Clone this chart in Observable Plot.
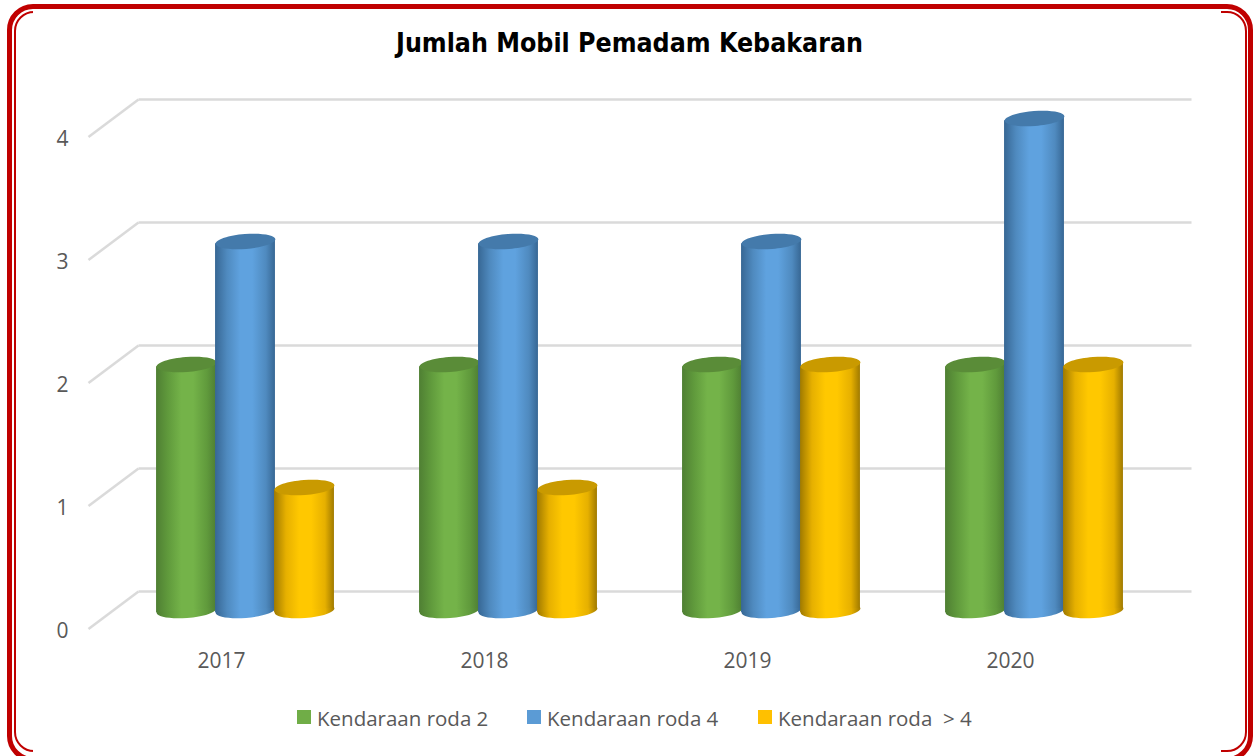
<!DOCTYPE html>
<html>
<head>
<meta charset="utf-8">
<script src="https://cdn.jsdelivr.net/npm/d3@7"></script>
<script src="https://cdn.jsdelivr.net/npm/@observablehq/plot@0.6"></script>
<style>
  html, body { margin: 0; padding: 0; background: #fff; overflow: hidden; }
  #page { position: relative; width: 1253px; height: 756px; overflow: hidden; background: #fff; }
  #title { height: 80px; box-sizing: border-box; padding-top: 24px; padding-left: 6px; text-align: center; font: bold 26.5px/38px "DejaVu Sans Condensed", "DejaVu Sans", sans-serif; color: #000; }
  #chart { height: 620px; }
  #chart svg { display: block; }
  #legend { position: absolute; top: 699px; left: 297px; height: 38px; white-space: nowrap; font: 20.5px/38px "Open Sans", sans-serif; color: #595959; }
  .item { position: absolute; top: 0; display: block; }
  .swatch { position: absolute; left: 0; top: 11px; width: 14px; height: 14px; }
  .label { position: absolute; left: 20px; top: 0; white-space: pre; }
  .outer { position: absolute; left: 6.5px; right: 0; top: 3.5px; bottom: -6px; border: 5.7px solid #c00000; border-radius: 26px; pointer-events: none; }
  .inner { position: absolute; left: 13.5px; right: 6px; top: 11px; bottom: 4px; border: 2px solid #c00000; border-radius: 20px; pointer-events: none; }
  .mask { position: absolute; left: 33px; right: 32px; height: 5px; background: #fff; }
</style>
</head>
<body>
<div id="page">
  <div id="title">Jumlah Mobil Pemadam Kebakaran</div>
  <div id="chart"></div>
  <div id="legend"></div>
  <div class="inner"></div>
  <div class="mask" style="top:10px"></div>
  <div class="mask" style="bottom:3px"></div>
  <div class="outer"></div>
</div>
<script>
const years = [2017, 2018, 2019, 2020];
const roda2 = [2, 2, 2, 2];
const roda4 = [3, 3, 3, 4];
const rodaLebih4 = [1, 1, 2, 2];
const yTicks = [0, 1, 2, 3, 4];
const seriesNames = ["Kendaraan roda 2", "Kendaraan roda 4", "Kendaraan roda  > 4"];

// Styling of each series: legend colour, lit colour, cap colour and shaded edge colours
const seriesStyle = [
  {id: "green", main: "#70ad47", lit: "#74b349", cap: "#5a8c38", mid: "#609a3c", edge: "#4f7f33"},
  {id: "blue", main: "#5b9bd5", lit: "#5fa2df", cap: "#447aab", mid: "#4f8abf", edge: "#376794"},
  {id: "gold", main: "#ffc000", lit: "#ffc800", cap: "#c99a00", mid: "#e6b000", edge: "#a07a00"}
];
const seriesValues = [roda2, roda4, rodaLebih4];

// Scale layout: one year is 263px wide, 2017 sits at 245px; one unit of value is 123px
const step = 263, origin = 245, unit = 123;
const xPx = (px) => years[0] + (px - origin) / step;
const barPitch = 59 / step;
const barHalf = 29.95 / step;
const tilt = 2.2 / unit;
const depthBack = 19 / unit, depthFront = 18.5 / unit;
const xBack0 = xPx(138), xBack1 = xPx(1191), xFront = xPx(88);

const table = seriesValues.map((vals, s) =>
  vals.map((v, i) => ({
    series: seriesNames[s],
    year: years[i],
    value: v,
    center: years[i] + (s - 1) * barPitch
  }))
);

// Tilted ellipse cap for the cylinder ends
const capSymbol = {
  draw(ctx) {
    const rx = 30, ry = 7.5, a = -4.5 * Math.PI / 180, k = 0.5523;
    const c = Math.cos(a), s = Math.sin(a);
    const P = (x, y) => [x * c - y * s, x * s + y * c];
    const seg = (a1, a2, a3) => ctx.bezierCurveTo(...P(...a1), ...P(...a2), ...P(...a3));
    ctx.moveTo(...P(rx, 0));
    seg([rx, k * ry], [k * rx, ry], [0, ry]);
    seg([-k * rx, ry], [-rx, k * ry], [-rx, 0]);
    seg([-rx, -k * ry], [-k * rx, -ry], [0, -ry]);
    seg([k * rx, -ry], [rx, -k * ry], [rx, 0]);
    ctx.closePath();
  }
};

const defs = () => {
  const d = d3.create("svg:defs");
  for (const st of seriesStyle) {
    const g = d.append("linearGradient").attr("id", "grad-" + st.id).attr("x1", 0).attr("x2", 1).attr("y1", 0).attr("y2", 0);
    const stops = [[0, st.edge], [0.2, st.mid], [0.42, st.lit], [0.62, st.lit], [0.85, st.mid], [1, st.edge]];
    for (const [o, col] of stops) g.append("stop").attr("offset", o).attr("stop-color", col);
  }
  return d.node();
};

const grid = "#dadada";
const marks = [
  defs,
  Plot.link(yTicks, {x1: xBack0, x2: xBack1, y1: (d) => d + depthBack, y2: (d) => d + depthBack, stroke: grid, strokeWidth: 2.5}),
  Plot.link(yTicks, {x1: xFront, x2: xBack0, y1: (d) => d - depthFront, y2: (d) => d + depthBack, stroke: grid, strokeWidth: 2.5}),
  Plot.axisY(yTicks, {x: xPx(68), anchor: "left", tickSize: 0, tickPadding: 0, dy: 21, tickFormat: "d", fontSize: 21, fill: "#595959", label: null}),
  Plot.axisX(years, {y: -51 / unit, anchor: "bottom", tickSize: 0, tickPadding: 0, dx: -24, lineAnchor: "middle", tickFormat: "d", fontSize: 21, fill: "#595959", label: null})
];

table.forEach((rows, s) => {
  const st = seriesStyle[s];
  const fill = `url(#grad-${st.id})`;
  rows.forEach((row) => {
    // The cylinder body: its left and right sides follow the tilt of the end ellipses
    const sides = [
      {x: row.center - barHalf, y1: -tilt, y2: row.value - tilt},
      {x: row.center + barHalf, y1: tilt, y2: row.value + tilt}
    ];
    const one = [row];
    marks.push(
      Plot.dot(one, {x: "center", y: () => 0, symbol: capSymbol, fill}),
      Plot.areaY(sides, {x: "x", y1: "y1", y2: "y2", fill}),
      Plot.dot(one, {x: "center", y: "value", symbol: capSymbol, fill: st.cap})
    );
  });
});

const chart = Plot.plot({
  width: 1253,
  height: 620,
  margin: 0,
  x: {type: "linear", domain: [xPx(0), xPx(1253)], range: [0, 1253]},
  y: {type: "linear", domain: [0, 4], range: [530, 38]},
  style: {fontFamily: '"Open Sans", sans-serif', background: "transparent", color: "#595959", overflow: "visible"},
  marks
});
document.getElementById("chart").appendChild(chart);

// Legend
const legendX = [0, 230, 461];
const legend = d3.select("#legend");
seriesNames.forEach((name, s) => {
  const item = legend.append("div").attr("class", "item").style("left", legendX[s] + "px");
  item.append("div").attr("class", "swatch").style("background", seriesStyle[s].main);
  item.append("div").attr("class", "label").text(name);
});
</script>
</body>
</html>
